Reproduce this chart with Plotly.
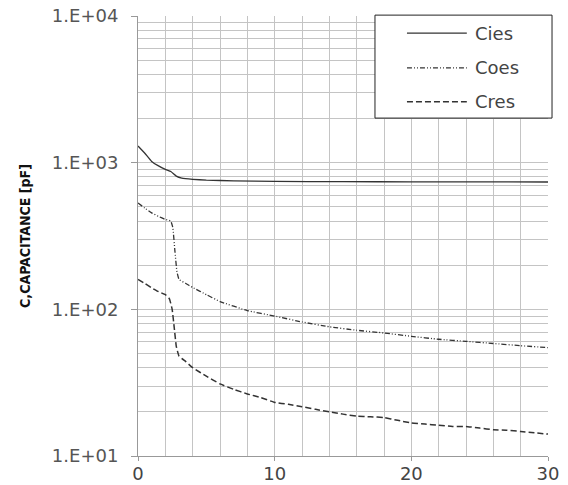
import plotly.graph_objects as go

# ---- data ----
x_cies = [0, 0.5, 1, 1.5, 2, 2.4, 2.8, 3.2, 4, 5, 7, 10, 15, 20, 25, 30]
cies = [1300, 1160, 1020, 950, 900, 870, 810, 785, 770, 760, 752, 745, 742, 740, 740, 738]

x_coes = [0, 0.5, 1, 1.5, 2, 2.4, 2.55, 2.7, 2.85, 3, 3.5, 4, 5, 6, 8, 10, 12, 14, 16, 18,
          20, 22, 24, 26, 28, 30]
coes = [531, 490, 455, 430, 410, 400, 360, 250, 180, 160, 150, 141, 126, 113, 98, 90, 82,
        76, 72, 69, 65.5, 62.5, 60.5, 58.5, 56.5, 54.8]

x_cres = [0, 0.5, 1, 1.5, 2, 2.3, 2.5, 2.65, 2.8, 3, 3.5, 4, 5, 6, 7, 8, 9, 10, 11, 12, 13,
          14, 15, 16, 17, 18, 19, 20, 21, 22, 23, 24, 25, 26, 27, 28, 29, 30]
cres = [160, 150, 140, 132, 126, 118, 100, 75, 56, 48, 44, 40, 35, 31, 28.5, 26.5, 25, 23.2,
        22.5, 21.7, 20.8, 20, 19.3, 18.7, 18.5, 18.3, 17.5, 16.8, 16.5, 16.2, 15.9, 15.9,
        15.5, 15.1, 15, 14.7, 14.4, 14.1]

series_names = ["Cies", "Coes", "Cres"]
y_tickvals = [10, 100, 1000, 10000]
y_ticktext = ["1.E+01", "1.E+02", "1.E+03", "1.E+04"]
x_tickvals = [0, 10, 20, 30]
y_minor = [m * 10 ** d for d in range(1, 4) for m in range(2, 10)]

LINE = "#333333"
GRID = "#c4c4c4"
FONT = "DejaVu Sans"
DASHES = ["solid", "5px,2px,1px,2px,1px,2px", "6px,3px"]
WIDTHS = [1.3, 1.3, 1.5]

fig = go.Figure()
for xs, ys, name, dash, w in zip([x_cies, x_coes, x_cres], [cies, coes, cres],
                                 series_names, DASHES, WIDTHS):
    fig.add_trace(go.Scatter(x=xs, y=ys, mode="lines", name=name, showlegend=False,
                             line=dict(color=LINE, width=w, dash=dash,
                                       shape="spline", smoothing=0.3)))

# custom legend box (paper coordinates)
fig.add_shape(type="rect", xref="paper", yref="paper", x0=0.578, x1=1.0098,
              y0=0.768, y1=1.002, line=dict(color="#222222", width=1),
              fillcolor="white", layer="above")
row_y = [0.961, 0.882, 0.805]
for name, dash, w, yy in zip(series_names, DASHES, WIDTHS, row_y):
    fig.add_shape(type="line", xref="paper", yref="paper", x0=0.656, x1=0.802,
                  y0=yy, y1=yy, line=dict(color=LINE, width=w, dash=dash), layer="above")
    fig.add_annotation(xref="paper", yref="paper", x=0.817, y=yy, text=name,
                       showarrow=False, xanchor="left", yanchor="middle",
                       font=dict(family=FONT, size=18, color="#444444"))

fig.update_layout(
    width=568, height=485,
    margin=dict(l=138, r=20, t=16, b=29),
    paper_bgcolor="white", plot_bgcolor="white",
    font=dict(family=FONT, size=18, color="#555555"),
    showlegend=False,
)
fig.update_xaxes(range=[0, 30], tickvals=x_tickvals, showgrid=True, gridcolor=GRID,
                 gridwidth=1, zeroline=False, showline=True, linecolor="#999999",
                 ticks="outside", ticklen=4, tickcolor="#999999", automargin=False,
                 ticklabelstandoff=-3,
                 tickfont=dict(family=FONT, size=18, color="#444444"),
                 minor=dict(dtick=2, showgrid=True, gridcolor=GRID, gridwidth=1, ticks=""))
fig.update_yaxes(type="log", range=[1, 4], tickvals=y_tickvals, ticktext=y_ticktext,
                 showgrid=True, gridcolor=GRID, gridwidth=1, zeroline=False,
                 showline=True, linecolor="#999999", ticks="outside", ticklen=6,
                 tickcolor="#999999", ticklabelstandoff=9, automargin=False,
                 tickfont=dict(family=FONT, size=18, color="#555555"),
                 minor=dict(tickvals=y_minor, showgrid=True, gridcolor=GRID, gridwidth=1,
                            ticks=""),
                 title=dict(text="<b>C,CAPACITANCE [pF]</b>", standoff=17,
                            font=dict(family="Liberation Sans Narrow, DejaVu Sans Condensed, sans-serif",
                                      size=14, color="#111111")))

fig.write_html("out.html")
